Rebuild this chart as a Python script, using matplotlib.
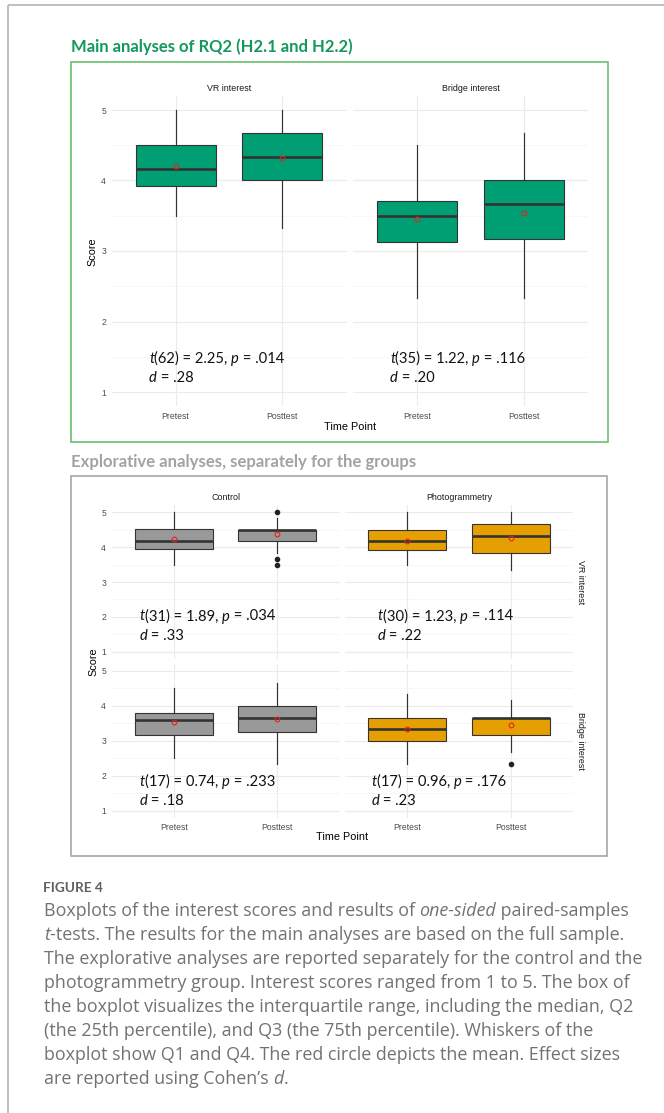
import matplotlib
matplotlib.use('Agg')
import matplotlib.pyplot as plt
from matplotlib.patches import Rectangle

W, H = 664, 1113

time_points = ['Pretest', 'Posttest']


def box(lo, q1, med, q3, hi, mean, out=()):
    return dict(whislo=lo, q1=q1, med=med, q3=q3, whishi=hi, mean=mean, fliers=list(out))


# main analyses (full sample)
main_vr = [box(3.5, 3.92, 4.167, 4.5, 5.0, 4.21), box(3.333, 4.0, 4.333, 4.667, 5.0, 4.32)]
main_bridge = [box(2.333, 3.13, 3.5, 3.71, 4.5, 3.45), box(2.333, 3.17, 3.667, 4.0, 4.667, 3.54)]

# explorative analyses per group
ctrl_vr = [box(3.5, 3.96, 4.167, 4.53, 5.0, 4.23),
           box(3.833, 4.167, 4.5, 4.5, 4.833, 4.37, [5.0, 3.667, 3.5])]
photo_vr = [box(3.5, 3.917, 4.167, 4.5, 5.0, 4.17), box(3.333, 3.833, 4.333, 4.667, 5.0, 4.25)]
ctrl_bridge = [box(2.5, 3.17, 3.59, 3.79, 4.5, 3.54), box(2.333, 3.24, 3.667, 4.0, 4.667, 3.62)]
photo_bridge = [box(2.333, 3.0, 3.333, 3.667, 4.333, 3.33),
                box(2.667, 3.167, 3.667, 3.667, 4.167, 3.45, [2.333])]

# t-tests: df, t, p, d
main_tests = [('62', '2.25', '.014', '.28'), ('35', '1.22', '.116', '.20')]
ctrl_tests = [('31', '1.89', '.034', '.33'), ('17', '0.74', '.233', '.18')]
photo_tests = [('30', '1.23', '.114', '.22'), ('17', '0.96', '.176', '.23')]

GREEN, GREY, ORANGE = '#009E73', '#999999', '#E69F00'
SANS = 'Liberation Sans'
TXT = 'Lato'

fig = plt.figure(figsize=(W / 100, H / 100), dpi=100)


def panel(left, top, w, h, stats, color, ylab=True, xlab=True):
    ax = fig.add_axes([left / W, 1 - (top + h) / H, w / W, h / H])
    ax.set_facecolor('none')
    for s in ax.spines.values():
        s.set_visible(False)
    ax.set_axisbelow(True)
    ax.bxp(stats, positions=[1, 2], widths=0.75, patch_artist=True, showmeans=True,
           showcaps=False, showfliers=True,
           boxprops=dict(facecolor=color, edgecolor='#333333', lw=0.8),
           medianprops=dict(color='#333333', lw=1.9, solid_capstyle='butt'),
           whiskerprops=dict(color='#333333', lw=0.85),
           meanprops=dict(marker='o', mfc='none', mec='#e3241b', ms=3.4, mew=0.8),
           flierprops=dict(marker='o', mfc='#222222', mec='#222222', ms=3.0))
    ax.set_xlim(0.4, 2.6)
    ax.set_ylim(0.8, 5.2)
    ax.set_xticks([1, 2])
    ax.set_xticklabels(time_points if xlab else [])
    ax.set_yticks([1, 2, 3, 4, 5])
    ax.set_yticklabels(['1', '2', '3', '4', '5'] if ylab else [])
    ax.set_yticks([1.5, 2.5, 3.5, 4.5], minor=True)
    ax.grid(which='major', color='#ebebeb', lw=0.8)
    ax.grid(which='minor', axis='y', color='#f4f4f4', lw=0.5)
    ax.tick_params(which='both', length=0, labelsize=6.2, labelcolor='#4d4d4d', pad=4)
    for t in ax.get_xticklabels() + ax.get_yticklabels():
        t.set_family(SANS)
    return ax


# top: main analyses
panel(111.5, 95.9, 235, 310.2, main_vr, GREEN)
panel(353, 95.9, 235, 310.2, main_bridge, GREEN, ylab=False)

# bottom: explorative analyses
panel(111.5, 505.3, 228, 153.4, ctrl_vr, GREY, xlab=False)
panel(345, 505.3, 228, 153.4, photo_vr, ORANGE, ylab=False, xlab=False)
panel(111.5, 664, 228, 153.7, ctrl_bridge, GREY)
panel(345, 664, 228, 153.7, photo_bridge, ORANGE, ylab=False)

# overlay in pixel coordinates
ov = fig.add_axes([0, 0, 1, 1], zorder=10)
ov.set_xlim(0, W)
ov.set_ylim(H, 0)
ov.axis('off')
ov.patch.set_alpha(0)

renderer = fig.canvas.get_renderer()


def width_of(s, **kw):
    a = ov.text(0, 0, s + '|', **kw)
    b = ov.text(0, 0, '|', **kw)
    wa = a.get_window_extent(renderer=renderer).width
    wb = b.get_window_extent(renderer=renderer).width
    a.remove()
    b.remove()
    return wa - wb


def rich(x, y, parts, **kw):
    for s, it in parts:
        style = 'italic' if it else 'normal'
        ov.text(x, y, s, style=style, va='baseline', ha='left', **kw)
        x += width_of(s, style=style, **kw)


def tests(x, y, vals):
    df, tv, pv, dv = vals
    kw = dict(fontsize=10.6, family=TXT, color='#111111')
    rich(x, y + 4.8, [('t', True), ('(%s) = %s, ' % (df, tv), False), ('p', True), (' = ' + pv, False)], **kw)
    rich(x, y + 23.8, [('d', True), (' = ' + dv, False)], **kw)


tests(149, 358, main_tests[0])
tests(390, 358, main_tests[1])
tests(139.6, 615.7, ctrl_tests[0])
tests(377.7, 615.7, photo_tests[0])
tests(139.6, 781, ctrl_tests[1])
tests(371.4, 781, photo_tests[1])

# page frame
ov.plot([8, W], [5, 5], color='#b4b4b4', lw=1.2, solid_capstyle='butt')
ov.plot([8, 8], [5, H], color='#b4b4b4', lw=1.2, solid_capstyle='butt')

# section frames and headings
ov.add_patch(Rectangle((70.5, 61.5), 537.5, 380, fill=False, ec='#6cc070', lw=1.2))
ov.add_patch(Rectangle((70.5, 475.5), 536.5, 380.5, fill=False, ec='#a6a6a6', lw=1.2))
ov.text(71, 47, 'Main analyses of RQ2 (H2.1 and H2.2)', fontsize=12, weight='bold',
        family=TXT, color='#13985e', va='center', ha='left')
ov.text(71, 461.5, 'Explorative analyses, separately for the groups', fontsize=12.1,
        weight='bold', family=TXT, color='#a3a3a3', va='center', ha='left')

# strip labels and axis titles
strip = dict(fontsize=6.4, family=SANS, color='#1a1a1a', va='center', ha='center')
ov.text(229, 88.3, 'VR interest', **strip)
ov.text(470.5, 88.3, 'Bridge interest', **strip)
ov.text(225.5, 497.3, 'Control', **strip)
ov.text(459, 497.3, 'Photogrammetry', **strip)
ov.text(581, 582, 'VR interest', rotation=-90, **strip)
ov.text(581, 741, 'Bridge interest', rotation=-90, **strip)

axt = dict(fontsize=7.8, family=SANS, color='black', va='center', ha='center')
ov.text(350, 427, 'Time Point', **axt)
ov.text(92, 252, 'Score', rotation=90, **axt)
ov.text(342.5, 837, 'Time Point', **axt)
ov.text(93, 661.7, 'Score', rotation=90, **axt)

# caption
cap = dict(fontsize=12.9, family='Open Sans', color='#727272')
ov.text(43, 891.5, 'FIGURE 4', fontsize=9.8, family=TXT, weight='bold', color='#606060',
        va='baseline', ha='left')
caption = [
    [('Boxplots of the interest scores and results of ', False), ('one-sided', True), (' paired-samples', False)],
    [('t', True), ('-tests. The results for the main analyses are based on the full sample.', False)],
    [('The explorative analyses are reported separately for the control and the', False)],
    [('photogrammetry group. Interest scores ranged from 1 to 5. The box of', False)],
    [('the boxplot visualizes the interquartile range, including the median, Q2', False)],
    [('(the 25th percentile), and Q3 (the 75th percentile). Whiskers of the', False)],
    [('boxplot show Q1 and Q4. The red circle depicts the mean. Effect sizes', False)],
    [('are reported using Cohen\u2019s ', False), ('d', True), ('.', False)],
]
for i, parts in enumerate(caption):
    rich(44, 915.5 + 24 * i, parts, **cap)

fig.savefig('out.png', dpi=100)
